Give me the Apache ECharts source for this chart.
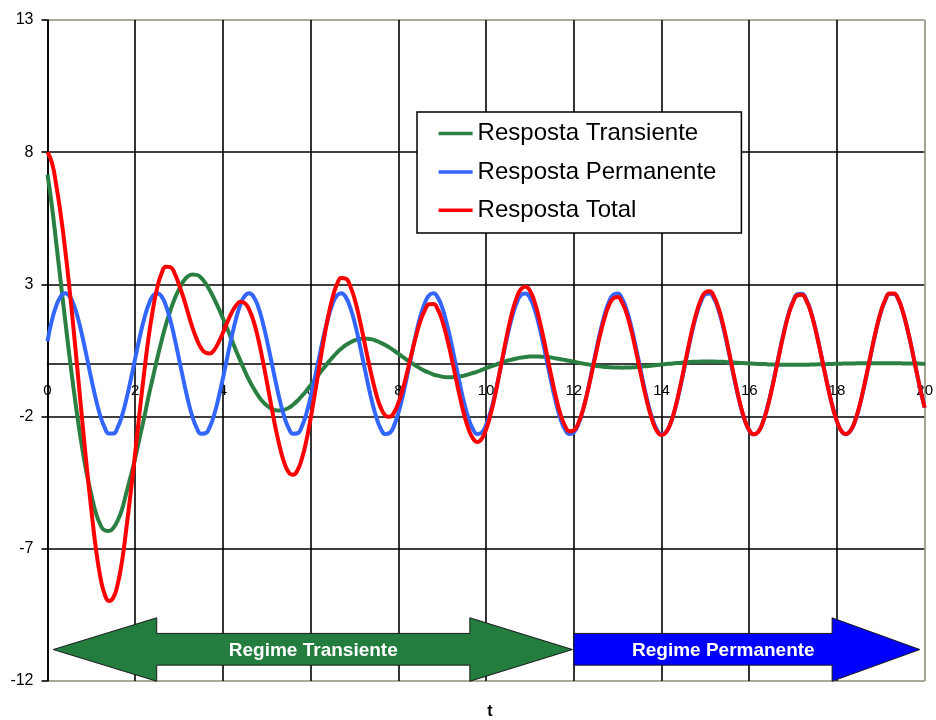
<!DOCTYPE html>
<html>
<head>
<meta charset="utf-8">
<title>Resposta de um sistema de segunda ordem</title>
<script src="https://cdn.jsdelivr.net/npm/echarts@6/dist/echarts.min.js"></script>
<style>
  html, body { margin: 0; padding: 0; background: #ffffff; }
  #chart { width: 936px; height: 720px; }
</style>
</head>
<body>
<div id="chart"></div>
<script>
// Instantes de amostragem (s)
const tempo = [
  0,0.1,0.2,0.3,0.4,0.5,0.6,0.7,0.8,0.9,
  1,1.1,1.2,1.3,1.4,1.5,1.6,1.7,1.8,1.9,
  2,2.1,2.2,2.3,2.4,2.5,2.6,2.7,2.8,2.9,
  3,3.1,3.2,3.3,3.4,3.5,3.6,3.7,3.8,3.9,
  4,4.1,4.2,4.3,4.4,4.5,4.6,4.7,4.8,4.9,
  5,5.1,5.2,5.3,5.4,5.5,5.6,5.7,5.8,5.9,
  6,6.1,6.2,6.3,6.4,6.5,6.6,6.7,6.8,6.9,
  7,7.1,7.2,7.3,7.4,7.5,7.6,7.7,7.8,7.9,
  8,8.1,8.2,8.3,8.4,8.5,8.6,8.7,8.8,8.9,
  9,9.1,9.2,9.3,9.4,9.5,9.6,9.7,9.8,9.9,
  10,10.1,10.2,10.3,10.4,10.5,10.6,10.7,10.8,10.9,
  11,11.1,11.2,11.3,11.4,11.5,11.6,11.7,11.8,11.9,
  12,12.1,12.2,12.3,12.4,12.5,12.6,12.7,12.8,12.9,
  13,13.1,13.2,13.3,13.4,13.5,13.6,13.7,13.8,13.9,
  14,14.1,14.2,14.3,14.4,14.5,14.6,14.7,14.8,14.9,
  15,15.1,15.2,15.3,15.4,15.5,15.6,15.7,15.8,15.9,
  16,16.1,16.2,16.3,16.4,16.5,16.6,16.7,16.8,16.9,
  17,17.1,17.2,17.3,17.4,17.5,17.6,17.7,17.8,17.9,
  18,18.1,18.2,18.3,18.4,18.5,18.6,18.7,18.8,18.9,
  19,19.1,19.2,19.3,19.4,19.5,19.6,19.7,19.8,19.9,
  20];

const respostaTransiente = [
  7.15,5.97,4.56,3.12,1.69,0.30,-1.01,-2.21,-3.28,-4.20,
  -4.95,-5.63,-6.07,-6.30,-6.33,-6.21,-5.93,-5.50,-4.87,-4.24,
  -3.57,-2.81,-2.07,-1.27,-0.54,0.19,0.86,1.48,2.00,2.46,
  2.81,3.12,3.30,3.37,3.36,3.25,3.05,2.78,2.45,2.10,
  1.72,1.32,0.91,0.49,0.10,-0.28,-0.63,-0.93,-1.20,-1.42,
  -1.58,-1.70,-1.76,-1.77,-1.74,-1.67,-1.55,-1.40,-1.22,-1.03,
  -0.81,-0.60,-0.37,-0.16,0.05,0.24,0.42,0.57,0.70,0.80,
  0.88,0.93,0.95,0.94,0.92,0.86,0.79,0.71,0.61,0.50,
  0.38,0.26,0.14,0.03,-0.08,-0.18,-0.27,-0.34,-0.41,-0.45,
  -0.49,-0.51,-0.51,-0.50,-0.48,-0.45,-0.40,-0.35,-0.30,-0.23,
  -0.17,-0.11,-0.05,0.01,0.07,0.12,0.16,0.20,0.23,0.25,
  0.27,0.27,0.27,0.26,0.25,0.23,0.20,0.17,0.14,0.11,
  0.08,0.04,0.01,-0.02,-0.05,-0.08,-0.10,-0.12,-0.13,-0.14,
  -0.14,-0.15,-0.14,-0.14,-0.13,-0.12,-0.10,-0.09,-0.07,-0.05,
  -0.03,-0.01,0.00,0.02,0.03,0.05,0.06,0.07,0.07,0.08,
  0.08,0.08,0.08,0.07,0.07,0.06,0.05,0.04,0.03,0.02,
  0.01,0.00,-0.01,-0.01,-0.02,-0.03,-0.03,-0.04,-0.04,-0.04,
  -0.04,-0.04,-0.04,-0.04,-0.03,-0.03,-0.02,-0.02,-0.01,-0.01,
  0.00,0.00,0.01,0.01,0.01,0.02,0.02,0.02,0.02,0.02,
  0.02,0.02,0.02,0.02,0.02,0.01,0.01,0.01,0.01,0.00,
  0.00];

const respostaPermanente = [
  0.85,1.64,2.19,2.54,2.67,2.56,2.22,1.68,0.99,0.22,
  -0.58,-1.32,-1.95,-2.40,-2.64,-2.64,-2.41,-1.96,-1.33,-0.59,
  0.20,0.98,1.67,2.21,2.56,2.67,2.55,2.19,1.65,0.95,
  0.17,-0.62,-1.36,-1.98,-2.42,-2.65,-2.63,-2.39,-1.93,-1.29,
  -0.55,0.25,1.02,1.71,2.24,2.57,2.67,2.53,2.17,1.61,
  0.91,0.13,-0.67,-1.40,-2.01,-2.44,-2.65,-2.63,-2.37,-1.90,
  -1.26,-0.50,0.29,1.07,1.74,2.26,2.58,2.67,2.52,2.14,
  1.58,0.87,0.08,-0.71,-1.44,-2.04,-2.46,-2.66,-2.62,-2.35,
  -1.86,-1.22,-0.46,0.34,1.11,1.78,2.28,2.59,2.67,2.50,
  2.12,1.54,0.83,0.04,-0.75,-1.48,-2.07,-2.47,-2.66,-2.61,
  -2.32,-1.83,-1.18,-0.41,0.38,1.15,1.81,2.31,2.60,2.66,
  2.49,2.09,1.50,0.78,-0.01,-0.80,-1.51,-2.10,-2.49,-2.66,
  -2.60,-2.30,-1.80,-1.14,-0.37,0.43,1.19,1.84,2.33,2.61,
  2.66,2.47,2.06,1.47,0.74,-0.05,-0.84,-1.55,-2.12,-2.51,
  -2.67,-2.59,-2.28,-1.77,-1.09,-0.33,0.47,1.23,1.87,2.35,
  2.62,2.66,2.45,2.03,1.43,0.70,-0.10,-0.88,-1.59,-2.15,
  -2.52,-2.67,-2.58,-2.26,-1.73,-1.05,-0.28,0.52,1.27,1.91,
  2.37,2.63,2.65,2.43,2.00,1.39,0.65,-0.14,-0.92,-1.62,
  -2.18,-2.54,-2.67,-2.56,-2.23,-1.70,-1.01,-0.24,0.56,1.31,
  1.94,2.39,2.64,2.64,2.42,1.97,1.35,0.61,-0.19,-0.96,
  -1.66];

const respostaTotal = [
  8.00,7.61,6.75,5.66,4.36,2.86,1.21,-0.53,-2.29,-3.98,
  -5.53,-6.95,-8.02,-8.70,-8.97,-8.85,-8.34,-7.46,-6.20,-4.83,
  -3.37,-1.83,-0.40,0.94,2.02,2.86,3.41,3.67,3.65,3.41,
  2.98,2.50,1.94,1.39,0.94,0.60,0.42,0.39,0.52,0.81,
  1.17,1.57,1.93,2.20,2.34,2.29,2.04,1.60,0.97,0.19,
  -0.67,-1.57,-2.43,-3.17,-3.75,-4.11,-4.20,-4.03,-3.59,-2.93,
  -2.07,-1.10,-0.08,0.91,1.79,2.50,3.00,3.24,3.22,2.94,
  2.46,1.80,1.03,0.23,-0.52,-1.18,-1.67,-1.95,-2.01,-1.85,
  -1.48,-0.96,-0.32,0.37,1.03,1.60,2.01,2.25,2.26,2.05,
  1.63,1.03,0.32,-0.46,-1.23,-1.93,-2.47,-2.82,-2.96,-2.84,
  -2.49,-1.94,-1.23,-0.40,0.45,1.27,1.97,2.51,2.83,2.91,
  2.76,2.36,1.77,1.04,0.24,-0.57,-1.31,-1.93,-2.35,-2.55,
  -2.52,-2.26,-1.79,-1.16,-0.42,0.35,1.09,1.72,2.20,2.47,
  2.52,2.32,1.92,1.33,0.61,-0.17,-0.94,-1.64,-2.19,-2.56,
  -2.70,-2.60,-2.28,-1.75,-1.06,-0.28,0.53,1.30,1.94,2.43,
  2.70,2.74,2.53,2.10,1.50,0.76,-0.05,-0.84,-1.56,-2.13,
  -2.51,-2.67,-2.59,-2.27,-1.75,-1.08,-0.31,0.48,1.23,1.87,
  2.33,2.59,2.61,2.39,1.97,1.36,0.63,-0.16,-0.93,-1.63,
  -2.18,-2.54,-2.66,-2.55,-2.22,-1.68,-0.99,-0.22,0.58,1.33,
  1.96,2.41,2.66,2.66,2.44,1.98,1.36,0.62,-0.18,-0.96,
  -1.66];

const nomesSeries = ['Resposta Transiente', 'Resposta Permanente', 'Resposta Total'];
const coresSeries = ['#2a7f42', '#3366ff', '#ff0000'];

// Setas dos regimes, em unidades dos eixos (t, valor)
const setaTransiente = [[0.13,-10.81],[2.49,-9.61],[2.49,-10.2],[9.63,-10.2],[9.63,-9.61],
  [11.97,-10.81],[9.63,-12.01],[9.63,-11.4],[2.49,-11.4],[2.49,-12.01]];
const setaPermanente = [[12,-10.2],[17.89,-10.2],[17.89,-9.61],[19.89,-10.81],
  [17.89,-12.01],[17.89,-11.4],[12,-11.4]];
const rotulosRegime = [
  { texto: 'Regime Transiente', pos: [6.06, -10.87] },
  { texto: 'Regime Permanente', pos: [15.41, -10.87] }
];

const fonte = '"Liberation Sans", Arial, sans-serif';
const bordaCinza = '#8e8e78';

function pares(valores) {
  return tempo.map((t, i) => [t, valores[i]]);
}

const chart = echarts.init(document.getElementById('chart'), null, { renderer: 'canvas' });

// Linha vertical em t = 20 fecha a área de plotagem em cinza
const linhasX = [];
for (let i = 0; i < 11; i++) linhasX.push(i === 10 ? bordaCinza : '#000000');

chart.setOption({
  animation: false,
  backgroundColor: '#ffffff',
  textStyle: { fontFamily: fonte },
  grid: { left: 47.5, right: 4.3, top: 20, bottom: 39, containLabel: false },
  legend: {
    data: nomesSeries,
    orient: 'vertical',
    left: 417,
    top: 112,
    icon: 'rect',
    itemWidth: 34,
    itemHeight: 3.5,
    itemGap: 14.35,
    padding: [9.6, 25, 10.7, 21.6],
    backgroundColor: '#ffffff',
    borderColor: '#000000',
    borderWidth: 1.5,
    borderRadius: 0,
    textStyle: { fontSize: 24, lineHeight: 24, color: '#000000', fontFamily: fonte }
  },
  xAxis: {
    type: 'value',
    position: 'bottom',
    min: 0,
    max: 20,
    interval: 2,
    axisLine: { onZero: false, lineStyle: { color: '#000000', width: 1.6 } },
    axisTick: { show: false },
    axisLabel: { margin: 20, fontSize: 15, color: '#000000', fontFamily: fonte },
    splitLine: { show: true, lineStyle: { color: linhasX, width: 1.6 } }
  },
  yAxis: {
    type: 'value',
    min: -12,
    max: 13,
    interval: 5,
    axisLine: { show: true, onZero: false, lineStyle: { color: '#000000', width: 1.6 } },
    axisTick: { show: true, length: 6, lineStyle: { color: '#000000', width: 1.6 } },
    axisLabel: { margin: 14, fontSize: 16, color: '#000000', fontFamily: fonte },
    splitLine: {
      show: true,
      lineStyle: { color: [bordaCinza, '#000000', '#000000', '#000000', '#000000', bordaCinza], width: 1.6 }
    }
  },
  series: [respostaTransiente, respostaPermanente, respostaTotal].map((valores, i) => ({
    name: nomesSeries[i],
    type: 'line',
    data: pares(valores),
    symbol: 'none',
    showSymbol: false,
    smooth: true,
    color: coresSeries[i],
    lineStyle: { color: coresSeries[i], width: 4 },
    z: 2 + i
  }))
});

// O eixo t passa por valor = 0: desloca o eixo da base da grade até o zero
const yZero = chart.convertToPixel({ yAxisIndex: 0 }, 0);
const yBase = chart.convertToPixel({ yAxisIndex: 0 }, -12);
chart.setOption({ xAxis: { offset: yZero - yBase } });

// Converte as setas para pixels através dos eixos
const paraPixel = (p) => chart.convertToPixel({ gridIndex: 0 }, p);

chart.setOption({
  graphic: [
    {
      type: 'polygon',
      shape: { points: setaTransiente.map(paraPixel) },
      style: { fill: '#237d3f', stroke: '#1a1a1a', lineWidth: 1 },
      z: 10
    },
    {
      type: 'polygon',
      shape: { points: setaPermanente.map(paraPixel) },
      style: { fill: '#0000ff', stroke: '#1a1a1a', lineWidth: 1 },
      z: 10
    },
    ...rotulosRegime.map((r) => {
      const p = paraPixel(r.pos);
      return {
        type: 'text',
        x: p[0],
        y: p[1],
        style: {
          text: r.texto,
          fill: '#ffffff',
          font: 'bold 19px ' + fonte,
          align: 'center',
          verticalAlign: 'middle'
        },
        z: 11
      };
    }),
    {
      type: 'text',
      x: 490,
      y: 712,
      style: {
        text: 't',
        fill: '#000000',
        font: 'bold 16px ' + fonte,
        align: 'center',
        verticalAlign: 'middle'
      },
      z: 11
    }
  ]
});
</script>
</body>
</html>
